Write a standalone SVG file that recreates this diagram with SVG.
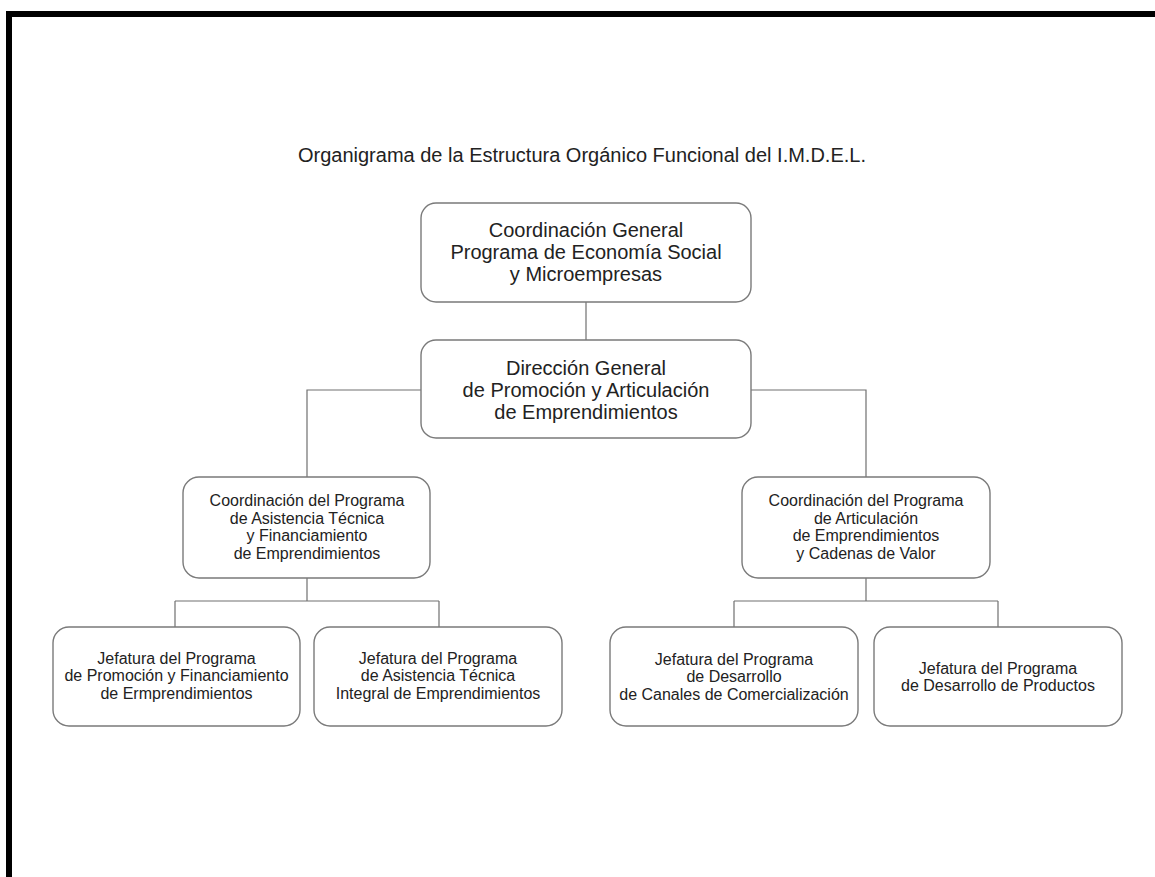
<svg xmlns="http://www.w3.org/2000/svg" width="1155" height="877" viewBox="0 0 1155 877">
  <style>
    .box { fill: #ffffff; stroke: #7a7a7a; stroke-width: 1.4; }
    .conn { fill: none; stroke: #707070; stroke-width: 1.2; }
    text { font-family: "Liberation Sans", Arial, sans-serif; fill: #222222; text-anchor: middle; }
    .t20 { font-size: 20px; }
    .t16 { font-size: 16px; }
  </style>
  <rect x="0" y="0" width="1155" height="877" fill="#ffffff"/>
  <g id="frame">
    <rect x="6" y="11" width="1149" height="6" fill="#000000"/>
    <rect x="6" y="11" width="6" height="866" fill="#000000"/>
  </g>
  <g id="title">
    <text class="t20" x="582" y="162">Organigrama de la Estructura Orgánico Funcional del I.M.D.E.L.</text>
  </g>
  <g id="connectors">
    <path class="conn" d="M586 302 V340"/>
    <path class="conn" d="M422 390 H307 V477"/>
    <path class="conn" d="M751 390 H866 V477"/>
    <path class="conn" d="M307 578 V601 M175 601 H439 M175 601 V627 M439 601 V627"/>
    <path class="conn" d="M866 578 V601 M734 601 H998 M734 601 V627 M998 601 V627"/>
  </g>
  <g id="n-coord-general">
    <rect class="box" x="421" y="203" width="330" height="99" rx="15"/>
    <text class="t20" x="586" y="237">Coordinación General</text>
    <text class="t20" x="586" y="259">Programa de Economía Social</text>
    <text class="t20" x="586" y="281">y Microempresas</text>
  </g>
  <g id="n-direccion">
    <rect class="box" x="421" y="340" width="330" height="98" rx="15"/>
    <text class="t20" x="586" y="375">Dirección General</text>
    <text class="t20" x="586" y="397">de Promoción y Articulación</text>
    <text class="t20" x="586" y="419">de Emprendimientos</text>
  </g>
  <g id="n-coord-asistencia">
    <rect class="box" x="183" y="477" width="247" height="101" rx="16"/>
    <text class="t16" x="307" y="506">Coordinación del Programa</text>
    <text class="t16" x="307" y="523.5">de Asistencia Técnica</text>
    <text class="t16" x="307" y="541">y Financiamiento</text>
    <text class="t16" x="307" y="558.5">de Emprendimientos</text>
  </g>
  <g id="n-coord-articulacion">
    <rect class="box" x="742" y="477" width="248" height="101" rx="16"/>
    <text class="t16" x="866" y="506">Coordinación del Programa</text>
    <text class="t16" x="866" y="523.5">de Articulación</text>
    <text class="t16" x="866" y="541">de Emprendimientos</text>
    <text class="t16" x="866" y="558.5">y Cadenas de Valor</text>
  </g>
  <g id="n-jef-promocion">
    <rect class="box" x="53" y="627" width="247" height="99" rx="16"/>
    <text class="t16" x="176.5" y="663.5">Jefatura del Programa</text>
    <text class="t16" x="176.5" y="681">de Promoción y Financiamiento</text>
    <text class="t16" x="176.5" y="698.5">de Ermprendimientos</text>
  </g>
  <g id="n-jef-asistencia">
    <rect class="box" x="314" y="627" width="248" height="99" rx="16"/>
    <text class="t16" x="438" y="663.5">Jefatura del Programa</text>
    <text class="t16" x="438" y="681">de Asistencia Técnica</text>
    <text class="t16" x="438" y="698.5">Integral de Emprendimientos</text>
  </g>
  <g id="n-jef-canales">
    <rect class="box" x="610" y="627" width="248" height="99" rx="16"/>
    <text class="t16" x="734" y="664.5">Jefatura del Programa</text>
    <text class="t16" x="734" y="682">de Desarrollo</text>
    <text class="t16" x="734" y="699.5">de Canales de Comercialización</text>
  </g>
  <g id="n-jef-productos">
    <rect class="box" x="874" y="627" width="248" height="99" rx="16"/>
    <text class="t16" x="998" y="673.5">Jefatura del Programa</text>
    <text class="t16" x="998" y="691">de Desarrollo de Productos</text>
  </g>
</svg>
